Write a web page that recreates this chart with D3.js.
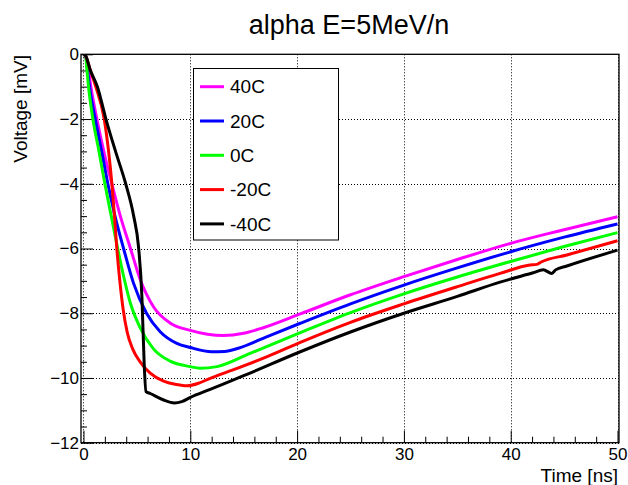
<!DOCTYPE html>
<html>
<head>
<meta charset="utf-8">
<script src="https://cdn.jsdelivr.net/npm/d3@7"></script>
<style>
  html, body { margin: 0; padding: 0; background: #fff; }
  svg { display: block; font-family: "Liberation Sans", Arial, Helvetica, sans-serif; }
</style>
</head>
<body>
<svg id="chart" width="628" height="485"></svg>
<script>
// ---- data (time [ns], voltage [mV]) ----
const seriesNames = ["40C", "20C", "0C", "-20C", "-40C"];
const seriesColors = ["#ff00ff", "#0000ff", "#00ff00", "#ff0000", "#000000"];

const s40C = [[0,0],[0.2,-0.05],[0.4,-0.35],[0.69,-1],[1.25,-2],[1.9,-3],[2.65,-4],[3.45,-5],[4.4,-6],[5.3,-6.95],[6.55,-7.8],[8.1,-8.3],[10,-8.53],[11.6,-8.65],[13.1,-8.69],[15,-8.62],[16.9,-8.44],[20.3,-8.02],[25,-7.43],[30,-6.87],[35,-6.34],[40,-5.84],[45,-5.42],[50,-5.02]];
const s20C = [[0,0],[0.2,-0.05],[0.35,-0.4],[0.56,-1],[1.1,-2],[1.7,-3],[2.28,-4],[2.95,-5],[3.75,-6],[4.68,-7.07],[5.9,-8.0],[7.18,-8.57],[8.74,-8.93],[10,-9.06],[12,-9.19],[13.2,-9.18],[14.5,-9.08],[17.2,-8.72],[20.3,-8.31],[25,-7.71],[30,-7.13],[35,-6.6],[40,-6.1],[45,-5.65],[50,-5.24]];
const s0C = [[0,0],[0.2,-0.05],[0.3,-0.4],[0.47,-1],[0.88,-2],[1.45,-3],[2.0,-4],[2.6,-5],[3.2,-6],[3.75,-6.85],[4.4,-7.7],[5.31,-8.45],[6.55,-9.1],[8.12,-9.48],[10,-9.65],[10.9,-9.7],[12.5,-9.65],[15.6,-9.24],[20.3,-8.6],[25,-7.98],[30,-7.4],[35,-6.88],[40,-6.4],[45,-5.94],[50,-5.51]];
const sM20C = [[0,0],[0.2,-0.05],[0.6,-0.45],[1.15,-1],[1.94,-2],[2.35,-3],[2.66,-4],[2.9,-5],[3.12,-6],[3.4,-7],[3.7,-7.85],[4.1,-8.6],[4.6,-9.1],[5.3,-9.5],[6.25,-9.85],[7.5,-10.1],[8.7,-10.2],[9.7,-10.24],[10.8,-10.16],[11.86,-10.01],[14.0,-9.75],[17.2,-9.34],[20.3,-8.9],[25,-8.28],[30,-7.71],[35,-7.18],[39,-6.77],[41.8,-6.51],[42.45,-6.49],[42.9,-6.41],[45.26,-6.2],[50,-5.76]];
const sM40C = [[0,0],[0.2,-0.05],[0.65,-0.5],[1.3,-1],[2.1,-2],[3.0,-3],[3.95,-4],[4.7,-5],[5.15,-5.94],[5.47,-7.49],[5.68,-9.55],[5.85,-10.42],[6.25,-10.48],[7.5,-10.68],[8.5,-10.77],[9.2,-10.73],[10,-10.6],[11.86,-10.35],[15,-9.93],[20.3,-9.19],[25,-8.58],[30,-8.0],[35,-7.48],[39,-7.04],[42.1,-6.75],[43.05,-6.66],[43.85,-6.77],[44.2,-6.66],[45.26,-6.54],[50,-6.05]];
const seriesData = [s40C, s20C, s0C, sM20C, sM40C];

const xTicks = [0, 10, 20, 30, 40, 50];
const yTicks = [0, -2, -4, -6, -8, -10, -12];
const titleText = "alpha E=5MeV/n";
const xTitle = "Time [ns]";
const yTitle = "Voltage [mV]";

// ---- layout ----
const svg = d3.select("#chart");
const L = 81, R = 619, T = 54.3, B = 442.7;
const x = d3.scaleLinear().domain([-0.234, 50.14]).range([L, R]);
const y = d3.scaleLinear().domain([-12, 0]).range([B, T]);

// grid (dotted)
const grid = svg.append("g").attr("stroke", "#000").attr("stroke-width", 1).attr("stroke-dasharray", "1,2");
grid.selectAll(".gx").data(xTicks).enter().append("line")
  .attr("x1", d => Math.round(x(d)) + 0.5).attr("x2", d => Math.round(x(d)) + 0.5)
  .attr("y1", T).attr("y2", B);
grid.selectAll(".gy").data(yTicks).enter().append("line")
  .attr("y1", d => Math.round(y(d)) + 0.5).attr("y2", d => Math.round(y(d)) + 0.5)
  .attr("x1", L).attr("x2", R);

// axes: ticks inside frame
const xAxis = d3.axisBottom(x).tickValues(xTicks).tickSize(-12).tickPadding(5).tickFormat(d3.format("d"));
const xMinor = d3.axisBottom(x).tickValues(d3.range(0, 51, 2).filter(v => v % 10 !== 0)).tickSize(-6).tickFormat("");
const yAxis = d3.axisLeft(y).tickValues(yTicks).tickSize(-12).tickPadding(2).tickFormat(d => d === 0 ? "0" : "\u2212" + Math.abs(d));
const yMinor = d3.axisLeft(y).tickValues(d3.range(-12, 0.01, 0.5).filter(v => v % 2 !== 0)).tickSize(-6).tickFormat("");

function styleAxis(g) {
  g.select(".domain").remove();
  g.selectAll("line").attr("stroke", "#000").attr("stroke-width", 1);
  g.selectAll("text").attr("fill", "#000").attr("font-size", 17).attr("font-family", "Liberation Sans, Arial, sans-serif");
}
svg.append("g").attr("transform", `translate(0,${B})`).call(xAxis).call(styleAxis);
svg.append("g").attr("transform", `translate(0,${B})`).call(xMinor).call(styleAxis);
svg.append("g").attr("transform", `translate(${L},0)`).call(yAxis).call(styleAxis);
svg.append("g").attr("transform", `translate(${L},0)`).call(yMinor).call(styleAxis);

// curves
const clipId = "plotclip";
svg.append("clipPath").attr("id", clipId).append("rect").attr("x", L).attr("y", T).attr("width", R - L).attr("height", B - T);
const line = d3.line().x(d => x(d[0])).y(d => y(d[1])).curve(d3.curveMonotoneX);
const curves = svg.append("g").attr("clip-path", `url(#${clipId})`);
seriesData.forEach((s, i) => {
  curves.append("path").datum(s)
    .attr("fill", "none").attr("stroke", seriesColors[i]).attr("stroke-width", 3)
    .attr("stroke-linejoin", "round").attr("d", line);
});

// frame
svg.append("rect").attr("x", L).attr("y", T).attr("width", R - L).attr("height", B - T)
  .attr("fill", "none").attr("stroke", "#000").attr("stroke-width", 1.3);

// legend
const lg = svg.append("g");
lg.append("rect").attr("x", 193.5).attr("y", 68.5).attr("width", 145).attr("height", 171.5)
  .attr("fill", "#fff").attr("stroke", "#000").attr("stroke-width", 1);
seriesNames.forEach((n, i) => {
  const yy = 86.7 + i * 34.3;
  lg.append("line").attr("x1", 200).attr("x2", 224).attr("y1", yy).attr("y2", yy)
    .attr("stroke", seriesColors[i]).attr("stroke-width", 3);
  lg.append("text").attr("x", 230).attr("y", yy).attr("dy", "0.35em")
    .attr("font-size", 19).attr("fill", "#000").text(n);
});

// titles
svg.append("text").attr("x", 349).attr("y", 34).attr("text-anchor", "middle")
  .attr("font-size", 27).attr("fill", "#000").text(titleText);
svg.append("text").attr("x", 618).attr("y", 482).attr("text-anchor", "end")
  .attr("font-size", 19).attr("fill", "#000").text(xTitle);
svg.append("text").attr("transform", "translate(27,55) rotate(-90)").attr("text-anchor", "end")
  .attr("font-size", 19).attr("fill", "#000").text(yTitle);
</script>
</body>
</html>
